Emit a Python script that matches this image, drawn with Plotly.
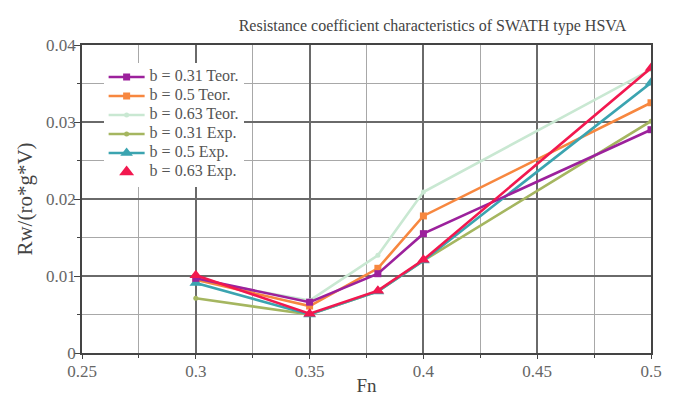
import plotly.graph_objects as go

fn = [0.3, 0.35, 0.38, 0.4, 0.5]

b031_teor = [0.0097, 0.0066, 0.0103, 0.0155, 0.0290]
b05_teor = [0.0095, 0.0061, 0.0110, 0.0178, 0.0325]
b063_teor = [0.0095, 0.0068, 0.0127, 0.0209, 0.0368]
b031_exp = [0.0071, 0.0050, 0.0080, 0.0120, 0.0301]
b05_exp = [0.0091, 0.0050, 0.0080, 0.0120, 0.0351]
b063_exp = [0.0101, 0.0051, 0.0081, 0.0121, 0.0370]

names = ["b = 0.31 Teor.", "b = 0.5 Teor.", "b = 0.63 Teor.",
         "b = 0.31 Exp.", "b = 0.5 Exp.", "b = 0.63 Exp."]
series = [b031_teor, b05_teor, b063_teor, b031_exp, b05_exp, b063_exp]
colors = ["#9c219c", "#f7873f", "#c9e8d2", "#a5b660", "#3ba4b0", "#f2184f"]
symbols = ["square", "square", "circle", "circle", "triangle-up", "triangle-up"]
sizes = [7, 7, 5, 5, 11, 11]

font = "Times New Roman, Liberation Serif, serif"


def lab(s):
    return '<span style="font-size:16px">' + s + '</span>'


fig = go.Figure()
draw_order = [2, 1, 3, 4, 0, 5]
for i in draw_order:
    last = (i == 5)
    fig.add_trace(go.Scatter(
        x=fn, y=series[i], name=lab(names[i]), mode="lines+markers",
        line=dict(color=colors[i], width=2.6),
        marker=dict(color=colors[i], symbol=symbols[i], size=sizes[i]),
        legendrank=i, showlegend=not last, legendgroup=names[i]))
fig.add_trace(go.Scatter(
    x=[None], y=[None], name=lab(names[5]), mode="markers",
    marker=dict(color=colors[5], symbol="triangle-up", size=13),
    legendrank=5, legendgroup=names[5], showlegend=True))

gridmajor = "#6a6a6a"
gridminor = "#a8a8a8"

# page body has an 8px margin, so the figure is sized/offset to compensate
fig.update_layout(
    width=666, height=388,
    margin=dict(l=74, r=23, t=37, b=43, autoexpand=False),
    paper_bgcolor="white", plot_bgcolor="white",
    font=dict(family=font, color="#555555", size=14),
    title=dict(text="Resistance coefficient characteristics of SWATH type HSVA",
               x=0.616, xref="paper", xanchor="center", y=0.955, yanchor="middle",
               font=dict(size=16, color="#444444", family=font)),
    legend=dict(x=0.038, y=0.943, xanchor="left", yanchor="top",
                bgcolor="white", borderwidth=0, tracegroupgap=0,
                font=dict(size=11, color="#555555", family=font),
                itemwidth=36),
    showlegend=True,
)
fig.update_xaxes(
    range=[0.25, 0.5], automargin=False,
    tickvals=[0.25, 0.3, 0.35, 0.4, 0.45, 0.5],
    ticktext=["0.25", "0.3", "0.35", "0.4", "0.45", "0.5"],
    showgrid=True, gridcolor=gridmajor, gridwidth=1.5,
    minor=dict(dtick=0.025, tick0=0.25, showgrid=True, gridcolor=gridminor,
               gridwidth=1, ticks="outside", ticklen=3, tickcolor="#444"),
    ticks="outside", ticklen=4, tickcolor="#444", ticklabelstandoff=-2,
    showline=True, linecolor="#444444", linewidth=1.8, mirror=True,
    zeroline=False,
    title=dict(text="Fn", standoff=0, font=dict(size=19, color="#444444", family=font)),
    tickfont=dict(size=17, color="#666666", family=font),
)
fig.update_yaxes(
    range=[0, 0.04], automargin=False,
    tickvals=[0, 0.01, 0.02, 0.03, 0.04],
    ticktext=["0", "0.01", "0.02", "0.03", "0.04"],
    showgrid=True, gridcolor=gridmajor, gridwidth=1.5,
    minor=dict(dtick=0.005, tick0=0, showgrid=True, gridcolor=gridminor,
               gridwidth=1, ticks="outside", ticklen=3, tickcolor="#444"),
    ticks="outside", ticklen=6, tickcolor="#444", ticklabelstandoff=-5,
    showline=True, linecolor="#444444", linewidth=1.8, mirror=True,
    zeroline=False,
    title=dict(text="Rw/(ro*g*V)", standoff=8, font=dict(size=21, color="#444444", family=font)),
    tickfont=dict(size=17, color="#666666", family=font),
)

fig.write_html("out.html")
